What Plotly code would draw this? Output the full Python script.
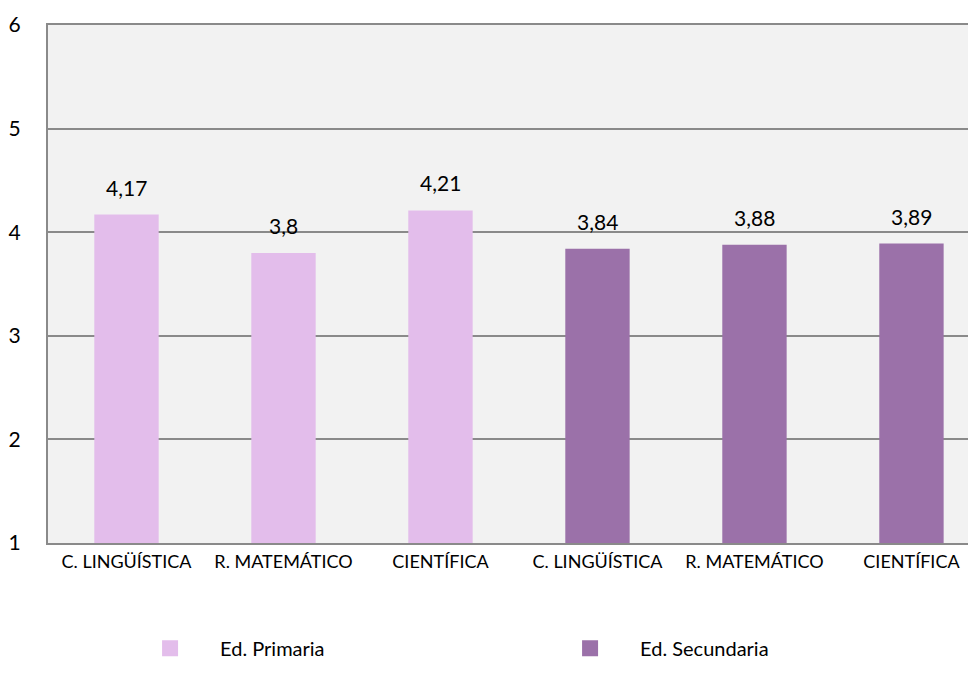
import plotly.graph_objects as go

categories = ["C. LINGÜÍSTICA", "R. MATEMÁTICO", "CIENTÍFICA"]
primaria = [4.17, 3.8, 4.21]
secundaria = [3.84, 3.88, 3.89]
series_names = ["Ed. Primaria", "Ed. Secundaria"]
y_ticks = [1, 2, 3, 4, 5, 6]

FONT = "Lato"
PINK = "#e3bdeb"
PURPLE = "#9b71a9"
GRID = "#8a8a8a"

x_prim = list(range(len(categories)))
x_sec = [i + len(categories) for i in range(len(categories))]
tick_text = categories + categories

def fmt(v):
    return f"{v:g}".replace(".", ",")

fig = go.Figure()
fig.add_trace(go.Bar(x=x_prim, y=primaria, name=series_names[0], showlegend=False,
                     marker=dict(color=PINK, line=dict(width=0)), width=0.41))
fig.add_trace(go.Bar(x=x_sec, y=secundaria, name=series_names[1], showlegend=False,
                     marker=dict(color=PURPLE, line=dict(width=0)), width=0.41))
# legend entries (square swatches)
for name, col in zip(series_names, (PINK, PURPLE)):
    fig.add_trace(go.Scatter(x=[None], y=[None], mode="markers", name=name,
                             marker=dict(symbol="square", size=16, color=col,
                                         line=dict(width=0))))

annotations = []
for xs, ys in ((x_prim, primaria), (x_sec, secundaria)):
    for xv, yv in zip(xs, ys):
        annotations.append(dict(x=xv, y=yv, xref="x", yref="y", text=fmt(yv),
                                showarrow=False, yanchor="bottom", yshift=13,
                                font=dict(family=FONT, size=21, color="#000")))

fig.update_layout(
    width=976, height=684,
    margin=dict(l=40, r=0, t=17, b=149),
    paper_bgcolor="white",
    plot_bgcolor="#f2f2f2",
    barmode="overlay",
    showlegend=True,
    legend=dict(orientation="h", x=0.077, xanchor="left", y=-0.203, yanchor="middle",
                font=dict(family=FONT, size=20, color="#000"),
                itemwidth=90, entrywidth=315, entrywidthmode="pixels",
                bgcolor="rgba(0,0,0,0)"),
    annotations=annotations,
    xaxis=dict(range=[-0.5, 5.462], tickmode="array", tickvals=x_prim + x_sec,
               ticktext=tick_text, showgrid=False, zeroline=False, automargin=False,
               showline=True, linecolor=GRID, linewidth=2, mirror=True,
               ticks="outside", ticklen=1, tickcolor="rgba(0,0,0,0)",
               tickfont=dict(family=FONT, size=18, color="#000")),
    yaxis=dict(range=[1, 6], tickmode="array", tickvals=y_ticks, automargin=False,
               showgrid=True, gridcolor=GRID, gridwidth=2, zeroline=False,
               showline=True, linecolor=GRID, linewidth=2,
               ticks="outside", ticklen=21, tickcolor="rgba(0,0,0,0)",
               tickfont=dict(family=FONT, size=21, color="#000")),
)

fig.write_html("out.html")
